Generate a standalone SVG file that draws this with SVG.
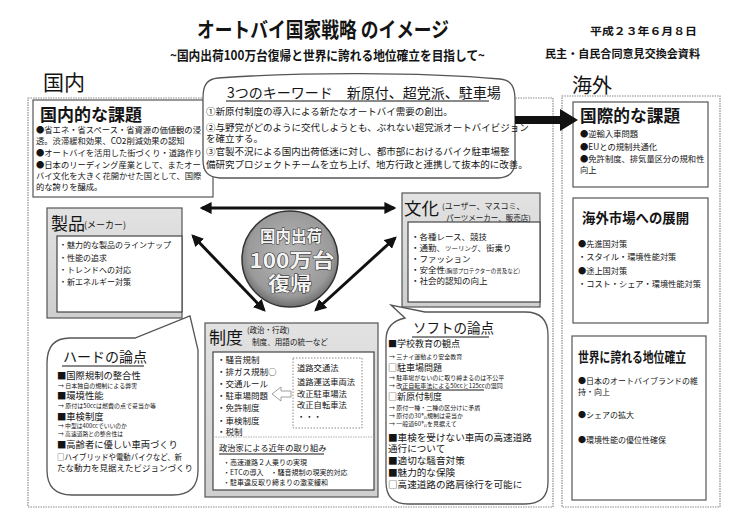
<svg xmlns="http://www.w3.org/2000/svg" width="750" height="530" viewBox="0 0 750 530">
<defs>
<style>
text{font-family:"Noto Sans CJK JP","Noto Sans CJK SC",sans-serif;fill:#141414}
.b{font-weight:bold}
.frame{fill:none;stroke:#8a8a8a;stroke-width:1.2;stroke-dasharray:1.5 1}
.box{fill:#fff;stroke:#555;stroke-width:1.2}
.gbox{fill:url(#gg);stroke:#555;stroke-width:1.2}
.ibox{fill:#fff;stroke:#444;stroke-width:1.2}
.bub{fill:#fff;stroke:#555;stroke-width:1.3}
.ul{stroke:#141414;stroke-width:1}
.arr{stroke:#111;stroke-width:3;fill:none;marker-start:url(#ah);marker-end:url(#ah)}
</style>
<linearGradient id="gg" x1="0" y1="0" x2="0" y2="1"><stop offset="0" stop-color="#e2e2e2"/><stop offset="1" stop-color="#cfcfcf"/></linearGradient>
<radialGradient id="cg" cx="0.5" cy="0.45" r="0.55"><stop offset="0" stop-color="#b8b8b8"/><stop offset="0.8" stop-color="#9a9a9a"/><stop offset="1" stop-color="#6e6e6e"/></radialGradient>
<marker id="ah" viewBox="0 0 10 10" refX="8" refY="5" markerWidth="4" markerHeight="4" orient="auto-start-reverse"><path d="M0,0 L10,5 L0,10 Z" fill="#111"/></marker>
</defs>
<rect width="750" height="530" fill="#fff"/>

<g id="header">
<text x="197" y="37" font-size="21" class="b" textLength="252" lengthAdjust="spacingAndGlyphs">オートバイ国家戦略 のイメージ</text>
<text x="170" y="60" font-size="13" class="b" textLength="315" lengthAdjust="spacingAndGlyphs">~国内出荷100万台復帰と世界に誇れる地位確立を目指して~</text>
<text x="590" y="35" font-size="10.5" class="b" textLength="107" lengthAdjust="spacingAndGlyphs">平成２３年６月８日</text>
<text x="545" y="58" font-size="11" class="b" textLength="155" lengthAdjust="spacingAndGlyphs">民主・自民合同意見交換会資料</text>
<text x="43" y="90" font-size="21">国内</text>
<text x="572" y="93" font-size="20">海外</text>
</g>

<g id="frames">
<rect class="frame" x="28" y="98" width="525" height="409"/>
<rect class="frame" x="562" y="96" width="158" height="411"/>
</g>

<g id="domestic-issues">
<rect class="box" x="33" y="100" width="180" height="97"/>
<text x="40" y="121" font-size="17" class="b">国内的な課題</text>
<g font-size="8.3">
<text x="36" y="133">●省エネ・省スペース・省資源の価値観の浸</text>
<text x="36" y="144">透。渋滞緩和効果、CO2削減効果の認知</text>
<text x="36" y="156">●オートバイを活用した街づくり・道路作り</text>
<text x="36" y="168">●日本のリーディング産業として、またオート</text>
<text x="36" y="179">バイ文化を大きく花開かせた国として、国際</text>
<text x="36" y="190">的な誇りを醸成。</text>
</g>
</g>

<g id="keywords">
<path class="bub" d="M218 78 C300 72 420 72 500 79 C512 80 515 88 515 100 L515 160 C515 172 510 177 498 178 L220 178 C208 177 203 172 203 160 L203 98 C203 85 207 79 218 78 Z"/>
<text x="227" y="98" font-size="14">3つのキーワード　新原付、超党派、駐車場</text>
<line class="ul" x1="226" y1="101" x2="489" y2="101"/>
<g font-size="9.5">
<text x="206" y="115">①新原付制度の導入による新たなオートバイ需要の創出。</text>
<text x="206" y="131">②与野党がどのように交代しようとも、ぶれない超党派オートバイビジョン</text>
<text x="206" y="142">を確立する。</text>
<text x="206" y="155">③官製不況による国内出荷低迷に対し、都市部におけるバイク駐車場整</text>
<text x="206" y="168">備研究プロジェクトチームを立ち上げ、地方行政と連携して抜本的に改善。</text>
</g>
</g>

<g id="intl-issues">
<rect class="box" x="573" y="102" width="135" height="85"/>
<text x="580" y="122" font-size="16.7" class="b">国際的な課題</text>
<g font-size="8.3">
<text x="580" y="137">●逆輸入車問題</text>
<text x="580" y="150">●EUとの規制共通化</text>
<text x="580" y="162">●免許制度、排気量区分の規和性</text>
<text x="580" y="173">向上</text>
</g>
</g>

<g id="overseas-market">
<rect class="box" x="573" y="198" width="135" height="125"/>
<text x="582" y="223" font-size="13.4" class="b">海外市場への展開</text>
<g font-size="8.2">
<text x="578" y="247">●先進国対策</text>
<text x="578" y="260">・スタイル・環境性能対策</text>
<text x="578" y="274">●途上国対策</text>
<text x="578" y="287">・コスト・シェア・環境性能対策</text>
</g>
</g>

<g id="world-position">
<rect class="box" x="572" y="336" width="134" height="164"/>
<text x="578" y="362" font-size="14" class="b" textLength="108" lengthAdjust="spacingAndGlyphs">世界に誇れる地位確立</text>
<g font-size="8">
<text x="578" y="384">●日本のオートバイブランドの維</text>
<text x="578" y="395">持・向上</text>
<text x="578" y="418">●シェアの拡大</text>
<text x="578" y="443">●環境性能の優位性確保</text>
</g>
</g>

<g id="connectors">
<line class="arr" x1="202" y1="208" x2="394" y2="208"/>
<line class="arr" x1="193" y1="236" x2="264" y2="310"/>
<line class="arr" x1="395" y1="238" x2="316" y2="310"/>
<path d="M515 116 L560 116 L560 109 L578 120 L560 131 L560 124 L515 124 Z" fill="#111"/>
</g>

<g id="product">
<rect class="gbox" x="47" y="208" width="135" height="110"/>
<rect class="ibox" x="57" y="236" width="125" height="76"/>
<text x="51" y="230" font-size="17">製品</text>
<text x="84" y="228" font-size="9">(メーカー)</text>
<g font-size="8">
<text x="59" y="248">・魅力的な製品のラインナップ</text>
<text x="59" y="261">・性能の追求</text>
<text x="59" y="273">・トレンドへの対応</text>
<text x="59" y="285">・新エネルギー対策</text>
</g>
</g>

<g id="culture">
<rect class="gbox" x="402" y="193" width="138" height="114"/>
<rect class="ibox" x="408" y="222" width="132" height="80"/>
<text x="404" y="215" font-size="17.5">文化</text>
<text x="442" y="209" font-size="8">(ユーザー、マスコミ、</text>
<text x="446" y="221" font-size="7.5">パーツメーカー、販売店)</text>
<g font-size="8.5">
<text x="411" y="240">・各種レース、競技</text>
<text x="411" y="251">・通勤、<tspan font-size="6.5">ツーリング</tspan>、街乗り</text>
<text x="411" y="262">・ファッション</text>
<text x="411" y="273">・安全性<tspan font-size="5.5">(胸部プロテクターの普及など)</tspan></text>
<text x="411" y="284">・社会的認知の向上</text>
</g>
</g>

<g id="goal">
<circle cx="290" cy="259" r="48" fill="url(#cg)" stroke="#333" stroke-width="1.5"/>
<g class="b" stroke="#222" stroke-width="0.9" paint-order="stroke" text-anchor="middle">
<text x="291" y="242" font-size="16" textLength="62" lengthAdjust="spacingAndGlyphs" style="fill:#f4f4f4">国内出荷</text>
<text x="292" y="268" font-size="20" textLength="85" lengthAdjust="spacingAndGlyphs" style="fill:#f4f4f4">100万台</text>
<text x="290" y="291" font-size="19" textLength="44" lengthAdjust="spacingAndGlyphs" style="fill:#f4f4f4">復帰</text>
</g>
</g>

<g id="hard">
<path class="bub" d="M70 338 L135 338 L190 316 L198 350 L198 470 Q198 495 173 495 L72 495 Q47 495 47 470 L47 363 Q47 338 70 338 Z"/>
<text x="63" y="362" font-size="14">ハードの論点</text>
<line class="ul" x1="62" y1="366" x2="144" y2="366"/>
<text x="57" y="379" font-size="9.3">■国際規制の整合性</text>
<text x="58" y="388" font-size="6">→ 日本独自の規制による弊害</text>
<text x="57" y="399" font-size="9.3">■環境性能</text>
<text x="58" y="408" font-size="6">→ 原付は50ccは燃費の点で妥当か等</text>
<text x="57" y="420" font-size="9.3">■車検制度</text>
<text x="58" y="428" font-size="5.8">→ 中型は400ccでいいのか</text>
<text x="58" y="436" font-size="5.8">→ 高速道路との整合性は</text>
<text x="57" y="448" font-size="9.3">■高齢者に優しい車両づくり</text>
<text x="57" y="460" font-size="8.5" textLength="125" lengthAdjust="spacingAndGlyphs">□ハイブリッドや電動バイクなど、新</text>
<text x="57" y="471" font-size="8.5">たな動力を見据えたビジョンづくり</text>
</g>

<g id="system">
<rect class="gbox" x="205" y="323" width="173" height="174"/>
<rect class="ibox" x="213" y="352" width="161" height="138"/>
<text x="209" y="344" font-size="17">制度</text>
<text x="247" y="333" font-size="7.5">(政治・行政)</text>
<text x="252" y="345" font-size="7.6">制度、用語の統一など</text>
<g font-size="8.5">
<text x="217" y="363">・騒音規制</text>
<text x="217" y="375">・排ガス規制○</text>
<text x="217" y="387">・交通ルール</text>
<text x="217" y="399">・駐車場問題</text>
<text x="217" y="411">・免許制度</text>
<text x="217" y="424">・車検制度</text>
<text x="217" y="435">・税制</text>
</g>
<rect x="293" y="358" width="69" height="70" fill="none" stroke="#888" stroke-width="1" stroke-dasharray="1.5 1.5"/>
<g font-size="8.3">
<text x="297" y="371">道路交通法</text>
<text x="297" y="385">道路運送車両法</text>
<text x="297" y="397">改正駐車場法</text>
<text x="297" y="408">改正自転車法</text>
<text x="297" y="420">・・・</text>
</g>
<path d="M291 391 L281 391 L281 387 L272 394 L281 401 L281 397 L291 397 Z" fill="#fff" stroke="#888" stroke-width="0.8"/>
<line x1="213" y1="437" x2="374" y2="437" stroke="#999" stroke-width="0.8" stroke-dasharray="1.5 1"/>
<text x="219" y="451" font-size="8.3">政治家による近年の取り組み</text>
<line class="ul" x1="219" y1="454" x2="324" y2="454" stroke-width="0.8"/>
<g font-size="7">
<text x="223" y="465">・高速道路２人乗りの実現</text>
<text x="223" y="475">・ETCの導入　・騒音規制の現実的対応</text>
<text x="223" y="485">・駐車違反取り締まりの激変緩和</text>
</g>
</g>

<g id="soft">
<path class="bub" d="M405 318 L391 305 L425 312 L525 312 Q548 312 548 335 L548 482 Q548 504 525 504 L408 504 Q386 504 386 482 L386 340 Q386 322 405 318 Z"/>
<text x="413" y="333" font-size="13.5">ソフトの論点</text>
<line class="ul" x1="412" y1="337" x2="489" y2="337"/>
<text x="388" y="347" font-size="9">■学校教育の観点</text>
<text x="389" y="359" font-size="6">→ 三ナイ運動より安全教育</text>
<text x="388" y="371" font-size="9">□駐車場問題</text>
<text x="389" y="380" font-size="6">→ 駐車場がないのに取り締まるのは不公平</text>
<text x="389" y="388" font-size="6">→ 改正自転車法による50ccと125ccの混同</text>
<line class="ul" x1="401" y1="390" x2="484" y2="390" stroke-width="0.6"/>
<text x="388" y="400" font-size="9">□新原付制度</text>
<text x="389" y="410" font-size="6">→ 原付一種・二種の区分けに矛盾</text>
<text x="389" y="418" font-size="6">→ 原付の30㌔規制は妥当か</text>
<text x="389" y="426" font-size="6">→ 一般道60㌔を見据えて</text>
<text x="388" y="441" font-size="9.6">■車検を受けない車両の高速道路</text>
<text x="388" y="452" font-size="9.6">通行について</text>
<text x="388" y="464" font-size="9.6">■適切な騒音対策</text>
<text x="388" y="476" font-size="9.6">■魅力的な保険</text>
<text x="388" y="488" font-size="9.6">□高速道路の路肩徐行を可能に</text>
</g>
</svg>
